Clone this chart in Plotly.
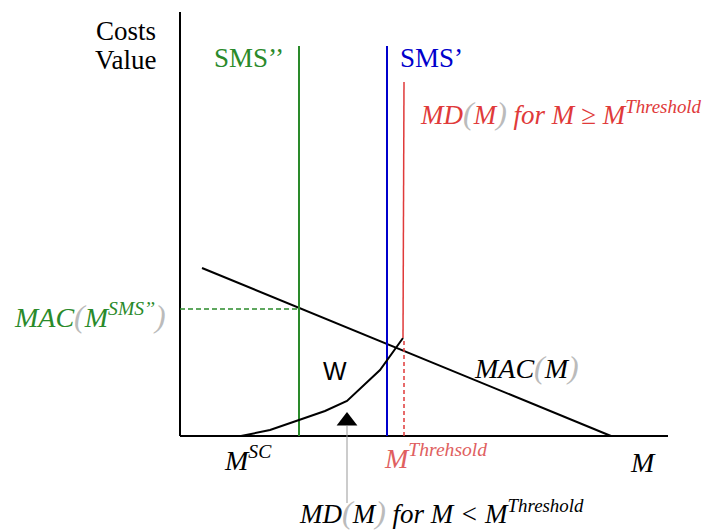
import plotly.graph_objects as go

# Model coordinates (M on x, cost/value on y)
axis_x = [0, 48.8]
axis_y = [0, 42.4]
mac_x = [2.2, 43.1]
mac_y = [16.8, 0.0]
md_low_x = [6.1, 9.0, 11.9, 14.5, 16.7, 20.0, 22.3]
md_low_y = [0.0, 0.6, 1.6, 2.5, 3.5, 6.6, 9.8]
md_high_x = [22.3, 22.4]
md_high_y = [9.8, 35.4]
m_sms2 = 11.9
m_sms1 = 20.7
sms_top = 39.0
m_threshold = 22.4
mac_sms2 = 12.7
arrow_x = 16.7
arrow_y = [-6.7, 1.0]
arrow_head_y = 1.5

GREEN = "#2a8a2a"
BLUE = "#0000cc"
RED = "#e03a3a"
LRED = "#e06060"

fig = go.Figure()

def line(x, y, color, width=2, dash="solid"):
    fig.add_trace(go.Scatter(x=x, y=y, mode="lines",
                             line=dict(color=color, width=width, dash=dash),
                             hoverinfo="skip", showlegend=False))

# axes
line([0, 0], [0, axis_y[1]], "black", 2)
line([0, axis_x[1]], [0, 0], "black", 2)
# MAC
line(mac_x, mac_y, "black", 2)
# SMS verticals
line([m_sms2, m_sms2], [0, sms_top], GREEN, 2)
line([m_sms1, m_sms1], [0, sms_top], BLUE, 2)
# dashed guides
line([0, m_sms2], [mac_sms2, mac_sms2], GREEN, 1.5, "5px,3px")
line([m_threshold, m_threshold], [0, md_low_y[-1]], RED, 1.5, "4px,3px")
# MD curves
line(md_low_x, md_low_y, "black", 2)
line(md_high_x, md_high_y, RED, 1.5)
# arrow
line([arrow_x, arrow_x], arrow_y, "#999999", 1)
fig.add_trace(go.Scatter(x=[arrow_x], y=[arrow_head_y], mode="markers",
                         marker=dict(symbol="triangle-up", size=18, color="black"),
                         hoverinfo="skip", showlegend=False))

SERIF = "Liberation Serif"

def text(x, y, s, color="black", size=27, xanchor="left", family=SERIF, align="left"):
    fig.add_annotation(x=x, y=y, text=s, showarrow=False, xanchor=xanchor,
                       yanchor="middle", align=align,
                       font=dict(family=family, size=size, color=color))

P = lambda c: f'<span style="color:#bbbbbb;font-size:32px">{c}</span>'

text(-2.2, 40.5, "Costs", size=27, xanchor="right")
text(-2.2, 37.6, "Value", size=27, xanchor="right")
text(3.2, 37.8, "SMS’’", GREEN, 27)
text(21.8, 37.8, "SMS’", BLUE, 27)
text(23.8, 32.3, f"<i>MD{P('(')}M{P(')')} for M ≥ M<sup>Threshold</sup></i>", RED, 27)
text(-16.8, 12.0, f"<i>MAC{P('(')}M<sup>SMS’’</sup>{P(')')}</i>", GREEN, 28)
text(15.5, 6.5, "W", "black", 25, "center", "Liberation Sans")
text(29.2, 6.9, f"<i>MAC{P('(')}M{P(')')}</i>", "black", 28)
text(4.2, -2.2, "<i>M<sup>SC</sup></i>", "black", 28)
text(20.2, -2.0, "<i>M<sup>Threhsold</sup></i>", LRED, 28)
text(46.3, -2.6, "<i>M</i>", "black", 28, "center")
text(11.7, -7.6, f"<i>MD{P('(')}M{P(')')} for M &lt; M<sup>Threshold</sup></i>", "black", 27)

fig.update_layout(
    width=708, height=530,
    margin=dict(l=0, r=0, t=0, b=0),
    paper_bgcolor="white", plot_bgcolor="white",
    xaxis=dict(range=[-18, 52.8], visible=False, fixedrange=True),
    yaxis=dict(range=[-9.4, 43.6], visible=False, fixedrange=True),
)

fig.write_html("out.html", config={"displayModeBar": False},
               post_script="document.body.style.margin='0';")
